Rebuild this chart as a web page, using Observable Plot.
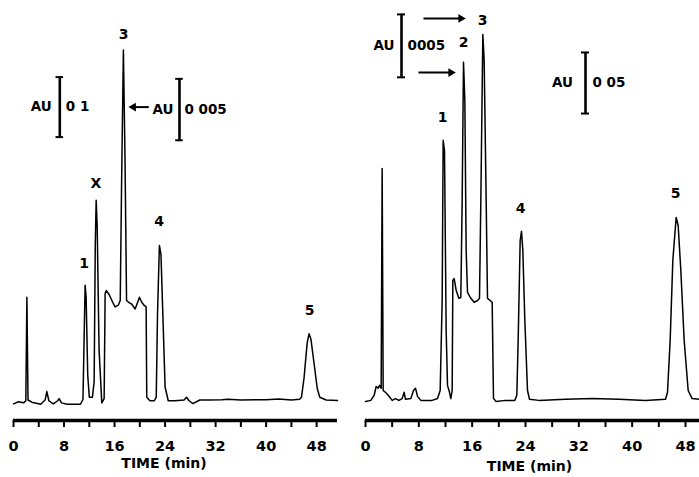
<!DOCTYPE html>
<html><head><meta charset="utf-8">
<script src="https://cdn.jsdelivr.net/npm/d3@7"></script>
<script src="https://cdn.jsdelivr.net/npm/@observablehq/plot@0.6"></script>
<style>
body{margin:0;background:#fff;}
#wrap{display:flex;width:699px;height:477px;overflow:hidden;background:#fff;}
#wrap svg{display:block;flex:none;}
</style></head><body><div id="wrap"></div>
<script>
// ---- data (time in min, detector response in relative units; 0 = baseline) ----
const minorTicks = d3.range(0, 49, 4);
const majorTicks = [0, 8, 16, 24, 32, 40, 48];
const axisTitle = "TIME (min)";

const leftTrace = [
[0.0,-0.3],[0.8,0.3],[1.6,0.0],[1.95,0.6],[2.12,29.9],[2.3,0.8],[2.9,0.2],[4.3,-0.4],[5.0,0.8],[5.28,3.2],[5.6,0.6],[6.3,-0.3],[7.0,0.6],[7.23,1.2],[7.6,0.0],[8.5,-0.4],[10.6,-0.4],[11.0,1.0],[11.2,20],[11.34,33.3],[11.5,30],[11.75,8],[12.0,1.6],[12.5,1.6],[12.77,6],[12.95,45],[13.09,57.4],[13.25,50],[13.55,15],[13.98,0],[14.35,1.2],[14.51,31.0],[14.7,31.8],[15.2,30.5],[15.7,28.5],[16.09,27.2],[16.6,27.7],[16.9,29],[17.1,60],[17.4,100],[17.65,70],[17.9,29.0],[18.3,28.4],[18.7,28.0],[19.26,26.6],[19.6,28.2],[19.94,29.9],[20.3,28.5],[20.7,27.6],[21.0,27.2],[21.1,1.6],[21.6,0.6],[22.3,0.6],[22.6,1.6],[22.8,25],[23.1,44.6],[23.35,42],[23.7,22],[24.0,4.5],[24.5,0.6],[25.5,0.6],[27.0,0.8],[27.4,1.6],[27.8,0.6],[28.4,-0.2],[29.5,0.8],[31,0.8],[33,0.9],[34,1.0],[36,0.8],[40,0.9],[42,1.1],[44,0.8],[45.3,1.0],[45.6,1.6],[46.0,7],[46.5,17],[46.8,19.6],[47.1,18],[47.6,11],[48.1,4],[48.5,1.6],[49.5,0.8],[51.3,0.7]
];
const rightTrace = [
[0.0,-0.3],[0.8,0.0],[1.3,1.4],[1.6,3.8],[1.9,3.3],[2.1,4.1],[2.35,3.3],[2.5,63.4],[2.65,2.7],[3.0,2.2],[3.4,1.4],[4.0,0.0],[4.5,0.5],[5.0,0.0],[5.5,0.5],[5.8,2.2],[6.0,0.3],[6.8,0.5],[7.2,2.7],[7.5,3.3],[7.8,1.1],[8.3,0.0],[10.0,0.0],[10.8,0.5],[11.2,2.7],[11.5,27.3],[11.65,71.1],[11.85,68.3],[12.1,19.1],[12.3,4.1],[12.6,2.2],[12.8,0.5],[13.0,2.7],[13.1,32.8],[13.3,33.3],[13.6,30.1],[14.0,27.9],[14.3,28.1],[14.5,54.7],[14.7,92.4],[14.9,82.0],[15.1,41.0],[15.3,29.5],[15.8,27.9],[16.3,26.8],[16.8,27.3],[17.1,27.9],[17.3,54.7],[17.6,100.0],[17.8,92.9],[18.1,54.7],[18.3,27.9],[18.7,27.3],[19.0,26.8],[19.2,0.5],[19.6,-0.3],[21,0.0],[22.4,0.0],[22.7,1.4],[22.9,16.4],[23.2,43.7],[23.4,46.2],[23.6,41.0],[23.9,21.9],[24.3,2.7],[24.6,0.3],[26,0.0],[30,0.3],[34,0.5],[38,0.3],[42,0.0],[45.0,0.3],[45.3,2.2],[45.7,16.4],[46.1,38.3],[46.6,50.0],[46.9,47.8],[47.3,35.5],[47.8,16.4],[48.4,2.7],[49.0,0.5],[50.1,0.3]
];

const leftPeakNames = ["1", "X", "3", "4", "5"];
const leftPeakLabelTime = [11.2, 13.05, 17.42, 23.07, 46.9];
const leftPeakLabelHeight = [39.6, 62.2, 104.4, 51.5, 26.2];

const rightPeakNames = ["1", "2", "3", "4", "5"];
const rightPeakLabelTime = [11.55, 14.7, 17.55, 23.25, 46.5];
const rightPeakLabelHeight = [77.3, 97.8, 103.8, 52.5, 56.6];

// absorbance scale bars: time, top, bottom, value text
const leftScaleTime = [7.33, 26.28];
const leftScaleTop = [92.3, 91.8];
const leftScaleBottom = [75.3, 74.4];
const leftScaleText = ["0 1", "0 005"];

const rightScaleTime = [5.4, 33.0];
const rightScaleTop = [105.5, 95.1];
const rightScaleBottom = [88.3, 78.4];
const rightScaleText = ["0005", "0 05"];

// arrows: tail time, head time, height
const leftArrowTail = [21.42], leftArrowHead = [18.98], leftArrowHeight = [83.8];
const rightArrowTail = [8.7, 7.95], rightArrowHead = [14.3, 12.8], rightArrowHeight = [104.4, 89.6];

const leftDomainX = [0, 51.3], leftDomainY = [-5, 114];
const rightDomainX = [0, 50.1], rightDomainY = [-5.5, 109.3];

function panel({width, marginLeft, marginRight, xDomain, yDomain, trace, names, lt, lh,
                sT, sTop, sBot, sText, gapsL, gapsR, aTail, aHead, aH, titleDx, titleDy}) {
  const cap = 0.6;
  const idx = d3.range(sT.length);
  const aidx = d3.range(aTail.length);
  return Plot.plot({
    width, height: 477, marginLeft, marginRight, marginTop: 0, marginBottom: 57,
    x: {domain: xDomain},
    y: {domain: yDomain, axis: null},
    style: {fontFamily: "DejaVu Sans", fontWeight: "bold", fontSize: "14px", color: "black", background: "white", overflow: "visible"},
    marks: [
      Plot.ruleY([yDomain[0]], {strokeWidth: 3.5, stroke: "black"}),
      Plot.axisX({ticks: minorTicks, tickSize: 7, strokeWidth: 2, tickFormat: () => "", label: null}),
      Plot.axisX({ticks: majorTicks, tickSize: 0, tickPadding: 20, fontSize: 14.5, fontWeight: "bold", label: null}),
      Plot.text([axisTitle], {frameAnchor: "bottom", dy: titleDy, dx: titleDx, fontSize: 14, fontWeight: "bold", letterSpacing: 0.3}),
      Plot.line(trace, {x: d => d[0], y: d => d[1], stroke: "black", strokeWidth: 1.5}),
      Plot.text(names, {x: lt, y: lh, text: d => d, fontSize: 14, fontWeight: "bold"}),
      // scale bars
      Plot.ruleX(idx, {x: i => sT[i], y1: i => sTop[i], y2: i => sBot[i], strokeWidth: 2.6}),
      Plot.ruleY(idx, {y: i => sTop[i], x1: i => sT[i] - cap, x2: i => sT[i] + cap, strokeWidth: 2}),
      Plot.ruleY(idx, {y: i => sBot[i], x1: i => sT[i] - cap, x2: i => sT[i] + cap, strokeWidth: 2}),
      ...idx.map(i => Plot.text(["AU"], {x: sT[i], y: (sTop[i] + sBot[i]) / 2, textAnchor: "end", dx: -gapsL[i], fontSize: 13.5, fontWeight: "bold"})),
      ...idx.map(i => Plot.text([sText[i]], {x: sT[i], y: (sTop[i] + sBot[i]) / 2, textAnchor: "start", dx: gapsR[i], fontSize: 13.5, fontWeight: "bold"})),
      // arrows
      Plot.link(aidx, {x1: i => aTail[i], x2: i => aHead[i], y1: i => aH[i], y2: i => aH[i], strokeWidth: 2, stroke: "black"}),
      Plot.dot(aidx, {x: i => aHead[i], y: i => aH[i], symbol: "triangle", fill: "black", stroke: "none", r: 3.2,
                      rotate: i => aHead[i] > aTail[i] ? 90 : -90})
    ]
  });
}

const wrap = document.getElementById("wrap");
wrap.append(panel({
  width: 350, marginLeft: 13, marginRight: 13, xDomain: leftDomainX, yDomain: leftDomainY,
  trace: leftTrace, names: leftPeakNames, lt: leftPeakLabelTime, lh: leftPeakLabelHeight,
  sT: leftScaleTime, sTop: leftScaleTop, sBot: leftScaleBottom, sText: leftScaleText,
  gapsL: [8, 6], gapsR: [6, 5],
  aTail: leftArrowTail, aHead: leftArrowHead, aH: leftArrowHeight, titleDx: -11.5, titleDy: 47
}));
wrap.append(panel({
  width: 349, marginLeft: 15, marginRight: 0, xDomain: rightDomainX, yDomain: rightDomainY,
  trace: rightTrace, names: rightPeakNames, lt: rightPeakLabelTime, lh: rightPeakLabelHeight,
  sT: rightScaleTime, sTop: rightScaleTop, sBot: rightScaleBottom, sText: rightScaleText,
  gapsL: [7, 12.5], gapsR: [6, 7],
  aTail: rightArrowTail, aHead: rightArrowHead, aH: rightArrowHeight, titleDx: -3, titleDy: 50
}));
</script></body></html>
